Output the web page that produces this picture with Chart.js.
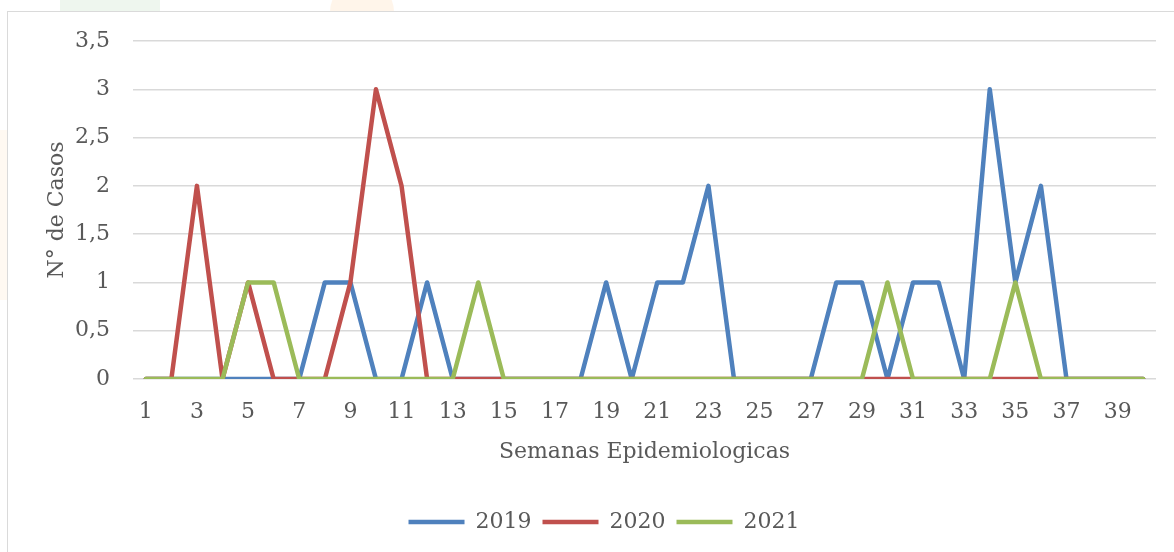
<!DOCTYPE html>
<html>
<head>
<meta charset="utf-8">
<script src="https://cdn.jsdelivr.net/npm/chart.js@4/dist/chart.umd.min.js"></script>
<style>
  html, body { margin: 0; padding: 0; background: #fff; }
  #wrap { position: relative; width: 1174px; height: 552px; overflow: hidden; }
  .frame { position: absolute; left: 7px; top: 11px; width: 1200px; height: 600px; border: 1.5px solid #dadada; box-sizing: border-box; }
  .wm1 { position: absolute; left: 60px; top: 0; width: 100px; height: 11px; background: #eef6ee; }
  .wm2 { position: absolute; left: 330px; top: -20px; width: 64px; height: 64px; border-radius: 50%; background: #fff5ea; }
  .wm3 { position: absolute; left: 0; top: 130px; width: 7px; height: 170px; background: #fff9f2; }
  canvas { position: absolute; left: 0; top: 0; }
</style>
</head>
<body>
<div id="wrap">
  <div class="wm1"></div>
  <div class="wm2"></div>
  <div class="wm3"></div>
  <div class="frame" style="background:#fff"></div>
  <canvas id="casosChart" width="1174" height="552"></canvas>
</div>
<script>
const weeks = [
  "1", "2", "3", "4", "5", "6", "7", "8", "9", "10",
  "11", "12", "13", "14", "15", "16", "17", "18", "19", "20",
  "21", "22", "23", "24", "25", "26", "27", "28", "29", "30",
  "31", "32", "33", "34", "35", "36", "37", "38", "39", "40",
];
const casos2019 = [0, 0, 0, 0, 0, 0, 0, 1, 1, 0, 0, 1, 0, 0, 0, 0, 0, 0, 1, 0,
  1, 1, 2, 0, 0, 0, 0, 1, 1, 0, 1, 1, 0, 3, 1, 2, 0, 0, 0, 0];
const casos2020 = [0, 0, 2, 0, 1, 0, 0, 0, 1, 3, 2, 0, 0, 0, 0, 0, 0, 0, 0, 0,
  0, 0, 0, 0, 0, 0, 0, 0, 0, 0, 0, 0, 0, 0, 0, 0, 0, 0, 0, 0];
const casos2021 = [0, 0, 0, 0, 1, 1, 0, 0, 0, 0, 0, 0, 0, 1, 0, 0, 0, 0, 0, 0,
  0, 0, 0, 0, 0, 0, 0, 0, 0, 1, 0, 0, 0, 0, 1, 0, 0, 0, 0, 0];
const yTicks = ["0", "0,5", "1", "1,5", "2", "2,5", "3", "3,5"];

const textColor = "#595959";
Chart.defaults.font.family = "'DejaVu Serif', serif";
Chart.defaults.font.size = 22;
Chart.defaults.color = textColor;

function serie(label, data, color, order) {
  return {
    label: label,
    data: data,
    borderColor: color,
    backgroundColor: color,
    borderWidth: 4.5,
    borderJoinStyle: "round",
    borderCapStyle: "round",
    pointRadius: 0,
    pointHoverRadius: 0,
    tension: 0,
    order: order,
  };
}

// nudge the legend row a bit right, like the original
const legendShift = {
  id: "legendShift",
  afterLayout(chart) {
    chart.legend.left += 26;
    chart.legend.right += 26;
  },
};

const ctx = document.getElementById("casosChart").getContext("2d");
const casosChart = new Chart(ctx, {
  type: "line",
  data: {
    labels: weeks,
    datasets: [
      serie("2019", casos2019, "#4f81bd", 3),
      serie("2020", casos2020, "#c0504d", 2),
      serie("2021", casos2021, "#9bbb59", 1),
    ],
  },
  options: {
    responsive: false,
    animation: false,
    layout: {
      padding: { top: 41, right: 18, bottom: 9, left: 0 },
    },
    scales: {
      x: {
        offset: true,
        grid: { display: false, drawTicks: false },
        border: { display: false },
        ticks: {
          autoSkip: false,
          maxRotation: 0,
          padding: 20,
          callback: (value, index) => (index % 2 === 0 ? weeks[index] : ""),
        },
        title: {
          display: true,
          text: "Semanas Epidemiologicas",
          padding: { top: 0, bottom: 35 },
        },
        afterFit: (scale) => {
          scale.height = 121;
        },
      },
      y: {
        min: 0,
        max: 3.5,
        grid: { color: "#d9d9d9", lineWidth: 1.5, drawTicks: false },
        border: { display: false },
        ticks: {
          stepSize: 0.5,
          padding: 23,
          callback: (value) => yTicks[Math.round(value * 2)],
        },
        title: {
          display: true,
          text: "N° de Casos",
          padding: { top: 44, bottom: 0 },
        },
        afterFit: (scale) => {
          scale.width = 133;
        },
      },
    },
    plugins: {
      legend: {
        position: "bottom",
        labels: {
          usePointStyle: true,
          pointStyle: "line",
          pointStyleWidth: 56,
          padding: 11,
          color: textColor,
          sort: (a, b) => a.datasetIndex - b.datasetIndex,
        },
      },
      tooltip: { enabled: false },
    },
  },
  plugins: [legendShift],
});
</script>
</body>
</html>
